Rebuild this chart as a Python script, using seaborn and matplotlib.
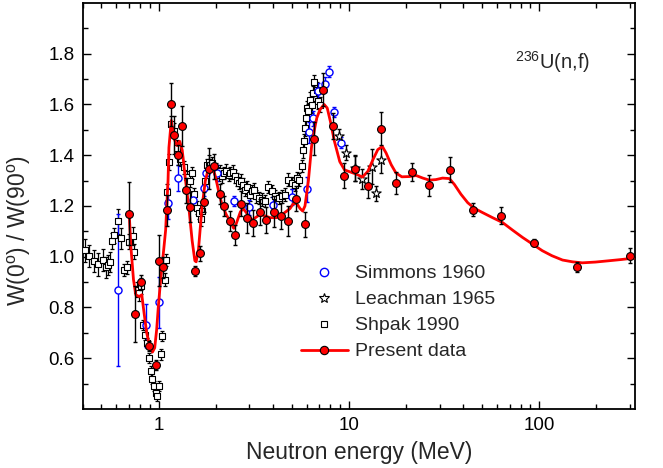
import numpy as np
import pandas as pd
import seaborn as sns
import matplotlib.pyplot as plt
from matplotlib.lines import Line2D
from matplotlib.ticker import FixedLocator, LogLocator, NullFormatter, FuncFormatter

# Simmons 1960
simmons_e = [0.61, 0.855, 1.01, 1.12, 1.26, 1.52, 1.74, 1.78, 2.03, 2.5, 3.0,
             4.0, 5.0, 6.0, 6.2, 6.45, 6.9, 7.5, 7.9, 8.4, 9.15]
simmons_w = [0.87, 0.73, 0.82, 1.21, 1.31, 1.225, 1.27, 1.33, 1.33, 1.22, 1.195,
             1.205, 1.235, 1.265, 1.49, 1.545, 1.655, 1.68, 1.73, 1.57, 1.45]
simmons_err = [0.30, 0.085, 0.10, 0.06, 0.05, 0.03, 0.03, 0.03, 0.03, 0.02, 0.03,
               0.03, 0.03, 0.05, 0.04, 0.03, 0.03, 0.03, 0.02, 0.02, 0.02]

# Leachman 1965
leach_e = [8.9, 9.65, 10.8, 11.8, 13.3, 13.9, 14.8]
leach_w = [1.475, 1.41, 1.35, 1.305, 1.355, 1.25, 1.38]
leach_err = [0.03, 0.03, 0.05, 0.04, 0.07, 0.03, 0.05]

# Shpak 1990
shpak_e = [0.41, 0.431, 0.455, 0.481, 0.507, 0.528, 0.54, 0.556, 0.567, 0.584,
           0.608, 0.633, 0.658, 0.68, 0.70, 0.734, 0.743, 0.767, 0.789, 0.805,
           0.831, 0.848, 0.872, 0.89, 0.908, 0.927, 0.945, 0.964, 0.984, 1.004,
           1.024, 1.045, 1.075, 1.088, 1.11, 1.132, 1.156, 1.20, 1.25, 1.30,
           1.357, 1.413, 1.458, 1.50, 1.53, 1.594, 1.626, 1.66, 1.69, 1.763,
           1.80, 1.83, 1.87, 1.91, 1.99, 2.07, 2.11, 2.155, 2.215, 2.27,
           2.33, 2.38, 2.46, 2.53, 2.58, 2.63, 2.71, 2.78, 2.85, 2.91,
           3.01, 3.1, 3.18, 3.26, 3.35, 3.49, 3.63, 3.78, 3.94, 4.1,
           4.27, 4.44, 4.62, 4.81, 5.0, 5.21, 5.31, 5.48, 5.65, 5.72,
           5.81, 5.88, 5.96, 6.06, 6.13, 6.26, 6.39, 6.45, 6.58, 6.77,
           6.9, 7.05]
shpak_w = [1.026, 1.003, 0.983, 0.971, 0.987, 0.958, 0.967, 0.98, 1.062, 1.085,
           1.14, 1.072, 0.948, 0.958, 1.059, 1.081, 1.02, 0.87, 0.856, 0.885,
           0.732, 0.693, 0.66, 0.602, 0.55, 0.519, 0.49, 0.464, 0.45, 0.49,
           0.615, 0.686, 0.909, 0.987, 1.255, 1.373, 1.523, 1.497, 1.43, 1.386,
           1.353, 1.314, 1.30, 1.33, 1.246, 1.193, 1.173, 1.147, 1.18, 1.30,
           1.362, 1.375, 1.362, 1.369, 1.343, 1.323, 1.337, 1.317, 1.33, 1.339,
           1.322, 1.33, 1.335, 1.317, 1.304, 1.291, 1.30, 1.284, 1.264, 1.273,
           1.245, 1.258, 1.264, 1.238, 1.231, 1.225, 1.22, 1.275, 1.259, 1.238,
           1.231, 1.238, 1.245, 1.304, 1.291, 1.284, 1.31, 1.304, 1.357, 1.42,
           1.455, 1.507, 1.546, 1.585, 1.573, 1.618, 1.598, 1.644, 1.688, 1.657,
           1.612, 1.599]
shpak_err = [0.045, 0.045, 0.045, 0.045, 0.045, 0.04, 0.04, 0.04, 0.03, 0.03,
             0.05, 0.04, 0.025, 0.025, 0.03, 0.035, 0.03, 0.03, 0.03, 0.03,
             0.02, 0.02, 0.02, 0.02, 0.02, 0.02, 0.02, 0.02, 0.02, 0.02,
             0.02, 0.02, 0.025, 0.025, 0.03, 0.03, 0.03, 0.03, 0.03, 0.03,
             0.025, 0.025, 0.025, 0.025, 0.025, 0.025, 0.025, 0.025, 0.025, 0.025,
             0.025, 0.025, 0.025, 0.025, 0.025, 0.025, 0.025, 0.025, 0.025, 0.025,
             0.025, 0.025, 0.025, 0.025, 0.025, 0.025, 0.025, 0.025, 0.025, 0.025,
             0.025, 0.025, 0.025, 0.025, 0.025, 0.025, 0.025, 0.025, 0.025, 0.025,
             0.025, 0.025, 0.025, 0.025, 0.025, 0.025, 0.025, 0.025, 0.025, 0.03,
             0.03, 0.03, 0.03, 0.03, 0.03, 0.03, 0.03, 0.03, 0.03, 0.03,
             0.03, 0.03]

# Present data
present_e = [0.70, 0.75, 0.81, 0.89, 0.97, 1.01, 1.06, 1.10, 1.155, 1.20,
             1.27, 1.33, 1.40, 1.47, 1.56, 1.645, 1.74, 1.85, 1.96, 2.09,
             2.21, 2.36, 2.53, 2.71, 2.91, 3.14, 3.40, 3.68, 4.02, 4.38,
             4.81, 5.30, 5.88, 6.56, 7.34, 8.25, 9.42, 10.8, 12.6, 14.8,
             17.7, 21.6, 26.5, 34.0, 45.0, 63.0, 94.0, 158.0, 300.0]
present_w = [1.17, 0.775, 0.90, 0.647, 0.575, 0.985, 0.958, 1.183, 1.60, 1.48,
             1.40, 1.515, 1.262, 1.196, 0.945, 1.013, 1.216, 1.347, 1.356, 1.246,
             1.199, 1.14, 1.085, 1.209, 1.153, 1.133, 1.177, 1.145, 1.178, 1.16,
             1.14, 1.229, 1.128, 1.465, 1.658, 1.515, 1.32, 1.347, 1.28, 1.505,
             1.29, 1.333, 1.281, 1.343, 1.186, 1.162, 1.056, 0.958, 1.004]
present_err = [0.125, 0.11, 0.03, 0.02, 0.02, 0.10, 0.04, 0.06, 0.085, 0.075,
               0.04, 0.08, 0.05, 0.06, 0.02, 0.03, 0.04, 0.08, 0.05, 0.04,
               0.04, 0.04, 0.04, 0.05, 0.06, 0.05, 0.05, 0.05, 0.06, 0.05,
               0.06, 0.05, 0.05, 0.065, 0.065, 0.05, 0.05, 0.05, 0.05, 0.065,
               0.042, 0.035, 0.04, 0.05, 0.027, 0.034, 0.015, 0.02, 0.03]

# fit curve through present data
curve_e = [0.70, 0.714, 0.737, 0.758, 0.79, 0.815, 0.838, 0.865, 0.897, 0.927,
           0.953, 0.976, 0.996, 1.024, 1.058, 1.088, 1.10, 1.12, 1.132, 1.165,
           1.20, 1.25, 1.29, 1.33, 1.385, 1.44, 1.50, 1.55, 1.575, 1.62,
           1.69, 1.76, 1.83, 1.91, 1.99, 2.07, 2.155, 2.27, 2.38, 2.48,
           2.56, 2.69, 2.78, 2.91, 3.03, 3.42, 3.86, 4.18, 4.53, 4.91,
           5.1, 5.32, 5.54, 5.72, 5.88, 6.13, 6.37, 6.63, 6.78, 7.05,
           7.42, 7.7, 8.0, 8.4, 8.96, 9.5, 10.1, 10.9, 11.8, 12.6,
           13.4, 14.2, 15.0, 15.7, 16.7, 17.7, 19.0, 20.8, 22.6, 24.5,
           26.5, 28.7, 31.1, 33.8, 35.9, 38.9, 42.2, 45.7, 50.5, 57.0,
           64.3, 72.6, 82.0, 92.4, 104.0, 117.0, 133.0, 150.0, 169.0, 198.0,
           232.0, 271.0, 318.0]
curve_w = [1.17, 1.04, 0.91, 0.85, 0.843, 0.85, 0.778, 0.70, 0.647, 0.624,
           0.641, 0.713, 0.804, 0.909, 1.013, 1.105, 1.18, 1.30, 1.43, 1.537,
           1.468, 1.438, 1.455, 1.42, 1.30, 1.196, 1.063, 0.984, 0.98, 1.03,
           1.196, 1.30, 1.35, 1.36, 1.315, 1.256, 1.204, 1.165, 1.139, 1.112,
           1.131, 1.177, 1.19, 1.171, 1.14, 1.167, 1.154, 1.154, 1.17, 1.19,
           1.209, 1.21, 1.19, 1.18, 1.2, 1.30, 1.435, 1.51, 1.546, 1.58,
           1.60, 1.586, 1.533, 1.455, 1.375, 1.342, 1.335, 1.326, 1.314, 1.337,
           1.383, 1.422, 1.435, 1.409, 1.363, 1.33, 1.315, 1.316, 1.32, 1.31,
           1.302, 1.304, 1.31, 1.308, 1.285, 1.246, 1.213, 1.191, 1.174, 1.154,
           1.135, 1.105, 1.076, 1.05, 1.024, 1.004, 0.987, 0.98, 0.976, 0.979,
           0.984, 0.989, 0.995]

y_major = [0.6, 0.8, 1.0, 1.2, 1.4, 1.6, 1.8]
y_minor = [0.5, 0.7, 0.9, 1.1, 1.3, 1.5, 1.7, 1.9]
x_major = [1, 10, 100]

sns.set_style("ticks")
plt.rcParams['font.family'] = ['Liberation Sans', 'DejaVu Sans']
plt.rcParams['mathtext.fontset'] = 'custom'
plt.rcParams['mathtext.rm'] = 'Liberation Sans'
plt.rcParams['mathtext.it'] = 'Liberation Sans:italic'
plt.rcParams['mathtext.default'] = 'regular'

fig = plt.figure(figsize=(6.63, 4.68), dpi=100)
ax = fig.add_axes([0.1252, 0.1261, 0.8326, 0.8675])
ax.set_xscale('log')

df_shpak = pd.DataFrame({'E': shpak_e, 'W': shpak_w})
df_sim = pd.DataFrame({'E': simmons_e, 'W': simmons_w})
df_leach = pd.DataFrame({'E': leach_e, 'W': leach_w})
df_pres = pd.DataFrame({'E': present_e, 'W': present_w})
df_curve = pd.DataFrame({'E': curve_e, 'W': curve_w})

# Shpak
ax.errorbar(shpak_e, shpak_w, yerr=shpak_err, fmt='none', ecolor='black',
            elinewidth=0.9, capsize=1.3, capthick=0.9, zorder=2)
sns.scatterplot(data=df_shpak, x='E', y='W', marker='s', s=17, facecolor='white',
                edgecolor='black', linewidth=0.8, ax=ax, zorder=3)

# Simmons
ax.errorbar(simmons_e, simmons_w, yerr=simmons_err, fmt='none', ecolor='#0000ff',
            elinewidth=1.0, capsize=1.5, capthick=1.0, zorder=2)
sns.scatterplot(data=df_sim, x='E', y='W', marker='o', s=26, facecolor='white',
                edgecolor='#0000ff', linewidth=1.0, ax=ax, zorder=3)

# Leachman
ax.errorbar(leach_e, leach_w, yerr=leach_err, fmt='none', ecolor='black',
            elinewidth=1.0, capsize=1.5, capthick=1.0, zorder=2)
sns.scatterplot(data=df_leach, x='E', y='W', marker='*', s=50, facecolor='white',
                edgecolor='black', linewidth=0.8, ax=ax, zorder=3)

# fit curve + present data
sns.lineplot(data=df_curve, x='E', y='W', color='red', linewidth=2, sort=False,
             estimator=None, ax=ax, zorder=4)
ax.errorbar(present_e, present_w, yerr=present_err, fmt='none', ecolor='black',
            elinewidth=1.0, capsize=1.5, capthick=1.0, zorder=5)
sns.scatterplot(data=df_pres, x='E', y='W', marker='o', s=32, facecolor='red',
                edgecolor='black', linewidth=0.8, ax=ax, zorder=6)

ax.set_xlim(0.4, 320)
ax.set_ylim(0.4, 2.0)
ax.xaxis.set_major_locator(FixedLocator(x_major))
ax.xaxis.set_major_formatter(FuncFormatter(lambda v, p: f"{v:g}"))
ax.xaxis.set_minor_locator(LogLocator(base=10, subs=np.arange(2, 10)))
ax.xaxis.set_minor_formatter(NullFormatter())
ax.yaxis.set_major_locator(FixedLocator(y_major))
ax.yaxis.set_major_formatter(FuncFormatter(lambda v, p: f"{v:.1f}"))
ax.yaxis.set_minor_locator(FixedLocator(y_minor))

ax.tick_params(which='both', direction='in', top=True, right=True, width=1.0,
               colors='black', labelsize=13.5)
ax.tick_params(which='major', length=6)
ax.tick_params(which='minor', length=3.5)
ax.tick_params(axis='x', which='major', pad=6)
ax.tick_params(axis='y', which='major', pad=6)
for sp in ax.spines.values():
    sp.set_linewidth(1.3)
    sp.set_color('black')

ax.set_xlabel('Neutron energy (MeV)', fontsize=16.5, labelpad=5)
ax.set_ylabel(r'W(0$^{o}$) / W(90$^{o}$)', fontsize=16.5)
ax.yaxis.set_label_coords(-0.09, 0.44)

ax.text(0.783, 0.837, r'$^{236}$U(n,f)', transform=ax.transAxes, fontsize=14.5,
        ha='left', va='baseline')

handles = [
    Line2D([], [], ls='none', marker='o', mfc='white', mec='#0000ff', ms=6, mew=1.0),
    Line2D([], [], ls='none', marker='*', mfc='white', mec='black', ms=7.5, mew=0.8),
    Line2D([], [], ls='none', marker='s', mfc='white', mec='black', ms=4.5, mew=0.8),
    Line2D([], [], color='red', lw=2, marker='o', mfc='red', mec='black', ms=6, mew=0.8),
]
labels = ['Simmons 1960', 'Leachman 1965', 'Shpak 1990', 'Present data']
ax.legend(handles, labels, loc='upper left', bbox_to_anchor=(0.395, 0.355),
          frameon=False, fontsize=14, handlelength=2.4, handletextpad=0.4,
          labelspacing=0.43, borderpad=0, borderaxespad=0)

fig.savefig('out.png', dpi=100)
